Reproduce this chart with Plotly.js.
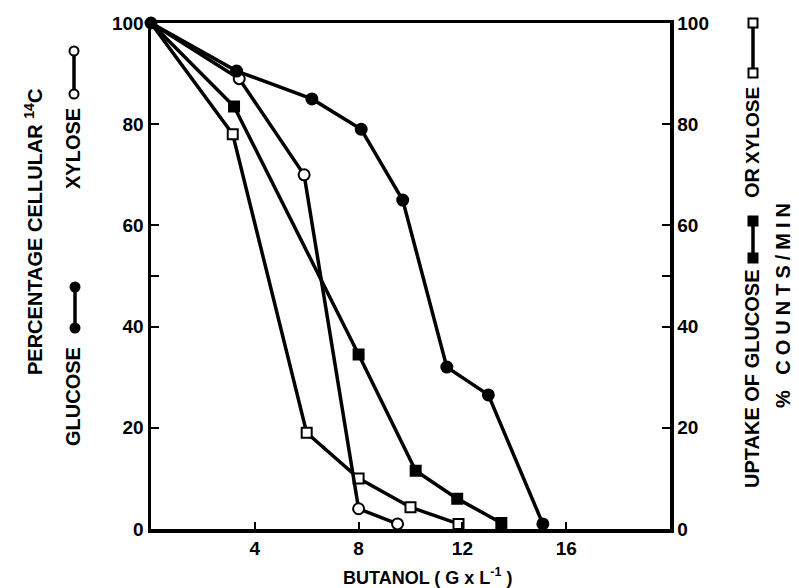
<!DOCTYPE html>
<html><head><meta charset="utf-8">
<script src="https://cdn.plot.ly/plotly-3.0.1.min.js"></script>
<style>body{margin:0;background:#fff}#c{width:799px;height:588px}</style>
</head><body><div id="c"></div>
<script>
// Data (butanol g/L vs % of control)
var glucoseX = [0, 3.3, 6.2, 8.1, 9.7, 11.4, 13.0, 15.1];
var glucoseY = [100, 90.5, 85, 79, 65, 32, 26.5, 1];
var xyloseX = [0, 3.4, 5.9, 8.0, 9.5];
var xyloseY = [100, 89, 70, 4, 1];
var glucUptakeX = [0, 3.2, 8.0, 10.2, 11.8, 13.5];
var glucUptakeY = [100, 83.5, 34.5, 11.5, 6, 1.2];
var xylUptakeX = [0, 3.15, 6.0, 8.0, 10.0, 11.85];
var xylUptakeY = [100, 78, 19, 10, 4.3, 1];
var xTicks = [4, 8, 12, 16];
var yTicks = [0, 20, 40, 50, 60, 80, 100];
var yTickText = ['0', '20', '40', '', '60', '80', '100'];

var FONT = 'Liberation Sans, Arial, sans-serif';
var L = 151, R = 670, T = 23, B = 529;
function px(x){return (x - L)/(R - L);}
function py(y){return (B - y)/(B - T);}

var data = [];
function series(x, y, sym, filled, skipFirst){
  data.push({x:x, y:y, mode:'lines', cliponaxis:false, line:{color:'#000', width:3.5},
    showlegend:false, hoverinfo:'skip'});
  var s = skipFirst ? 1 : 0;
  data.push({x:x.slice(s), y:y.slice(s), mode:'markers', cliponaxis:false,
    marker:{symbol:sym, size: sym==='circle'?11:10, color: filled?'#000':'#fff',
      line:{color:'#000', width:2}}, showlegend:false, hoverinfo:'skip'});
}
series(xylUptakeX, xylUptakeY, 'square', false, true);
series(glucUptakeX, glucUptakeY, 'square', true, true);
series(xyloseX, xyloseY, 'circle', false, true);
series(glucoseX, glucoseY, 'circle', true, false);

var tf = {family:FONT, size:19, color:'#000', weight:700};
function ann(text, x, y, angle, size){
  return {text:text, xref:'paper', yref:'paper', x:px(x), y:py(y), xanchor:'center', yanchor:'middle',
    showarrow:false, textangle:angle||0, font:{family:FONT, size:size||20, color:'#000', weight:700}};
}
var shapes = [];
function dumbbell(x, y1, y2, sym, filled){
  shapes.push({type:'line', xref:'paper', yref:'paper', x0:px(x), x1:px(x), y0:py(y1), y1:py(y2),
    line:{color:'#000', width:3.5}});
  [y1, y2].forEach(function(y){
    var r = 4.5;
    shapes.push({type: sym==='circle'?'circle':'rect', xref:'paper', yref:'paper',
      x0:px(x-r), x1:px(x+r), y0:py(y+r), y1:py(y-r),
      fillcolor: filled?'#000':'#fff', line:{color:'#000', width:2}});
  });
}
dumbbell(75, 287, 328, 'circle', true);
dumbbell(74, 51, 94, 'circle', false);
dumbbell(753, 221, 258, 'square', true);
dumbbell(753, 23, 73, 'square', false);

var layout = {
  width:799, height:588, paper_bgcolor:'#fff', plot_bgcolor:'#fff',
  margin:{l:L, r:799-R, t:T, b:588-B},
  xaxis:{range:[0,20], tickvals:xTicks, ticks:'inside', ticklen:7, tickwidth:2, tickcolor:'#000',
    showline:true, linewidth:3.5, linecolor:'#000', mirror:true, showgrid:false, zeroline:false,
    tickfont:tf, fixedrange:true},
  yaxis:{range:[0,100], tickvals:yTicks, ticktext:yTickText, ticks:'inside', ticklen:8, tickwidth:2,
    tickcolor:'#000', showline:true, linewidth:3.5, linecolor:'#000', showgrid:false, zeroline:false,
    tickfont:tf, ticklabelstandoff:0},
  yaxis2:{range:[0,100], overlaying:'y', side:'right', tickvals:yTicks, ticktext:yTickText,
    ticks:'inside', ticklen:8, tickwidth:2, tickcolor:'#000', showline:true, linewidth:3.5,
    linecolor:'#000', showgrid:false, zeroline:false, tickfont:tf, ticklabelstandoff:0},
  annotations:[
    ann('PERCENTAGE CELLULAR <sup>14</sup>C', 34, 232, -90, 20),
    ann('GLUCOSE', 73, 397, -90),
    ann('XYLOSE', 73, 149, -90),
    ann('UPTAKE OF GLUCOSE', 752, 379, -90, 20),
    ann('OR', 752, 183, -90),
    ann('XYLOSE', 752, 126, -90, 19),
    ann('% COUNTS/MIN', 783, 303, -90, 20),
    ann('BUTANOL ( G x L<sup>-1</sup> )', 428, 576, 0, 18)
  ],
  shapes:shapes
};
data.push({x:[0], y:[0], yaxis:'y2', mode:'markers', marker:{opacity:0}, showlegend:false, hoverinfo:'skip'});
Plotly.newPlot('c', data, layout, {displayModeBar:false, staticPlot:true}).then(function(){
  var texts = document.querySelectorAll('.annotation-text');
  texts.forEach(function(t){
    if (t.textContent.indexOf('COUNTS') >= 0) t.style.letterSpacing = '5px';
  });
});
</script></body></html>
